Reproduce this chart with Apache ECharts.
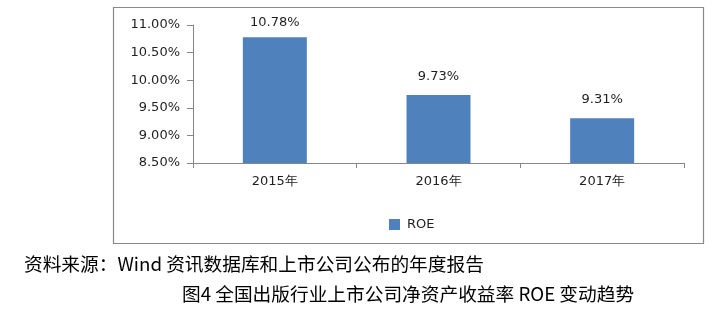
<!DOCTYPE html>
<html>
<head>
<meta charset="utf-8">
<script src="https://cdn.jsdelivr.net/npm/echarts@6/dist/echarts.min.js"></script>
<style>
html,body{margin:0;padding:0;background:#fff;}
#chart{width:722px;height:316px;}
</style>
</head>
<body>
<div id="chart"></div>
<script>
var categories = ['2015年', '2016年', '2017年'];
var roeValues = [10.78, 9.73, 9.31];
var seriesName = 'ROE';
var yMin = 8.5, yMax = 11.0, yStep = 0.5;
var sourceText = '资料来源：Wind 资讯数据库和上市公司公布的年度报告';
var captionText = '图4 全国出版行业上市公司净资产收益率 ROE 变动趋势';

var chart = echarts.init(document.getElementById('chart'), null, {renderer: 'canvas'});
var labelFont = 'DejaVu Sans';
var cjkFont = '"Noto Sans CJK SC", sans-serif';

var barData = roeValues.map(function (v, i) {
  return {value: v, label: {distance: i === 0 ? 8 : 12}};
});

chart.setOption({
  animation: false,
  backgroundColor: '#fff',
  grid: {left: 193, right: 38, top: 25, bottom: 153, containLabel: false},
  xAxis: {
    type: 'category',
    data: categories,
    axisLine: {lineStyle: {color: '#868686', width: 1}},
    axisTick: {show: true, length: 5, lineStyle: {color: '#868686'}},
    axisLabel: {color: '#1f1f1f', fontFamily: labelFont, fontSize: 13, margin: 12}
  },
  yAxis: {
    type: 'value',
    min: yMin, max: yMax, interval: yStep,
    axisLine: {show: true, lineStyle: {color: '#868686', width: 1}},
    axisTick: {show: true, length: 6, lineStyle: {color: '#868686'}},
    splitLine: {show: false},
    axisLabel: {
      color: '#1f1f1f', fontFamily: labelFont, fontSize: 13, margin: 13,
      formatter: function (v) { return v.toFixed(2) + '%'; }
    }
  },
  legend: {
    data: [seriesName],
    left: 384, top: 213,
    itemWidth: 11, itemHeight: 11, itemGap: 10,
    icon: 'rect',
    textStyle: {color: '#1f1f1f', fontFamily: labelFont, fontSize: 13, padding: [0, 0, 0, 2]}
  },
  series: [{
    name: seriesName,
    type: 'bar',
    data: barData,
    barWidth: 64,
    itemStyle: {color: '#4F81BD'},
    label: {
      show: true, position: 'top',
      color: '#1f1f1f', fontFamily: labelFont, fontSize: 13,
      formatter: function (p) { return p.value.toFixed(2) + '%'; }
    }
  }],
  graphic: [
    {
      type: 'rect', silent: true, z: -1,
      shape: {x: 113.5, y: 7.5, width: 590, height: 236},
      style: {fill: 'none', stroke: '#888888', lineWidth: 1.2}
    },
    {
      type: 'text', left: 24, top: 255,
      style: {text: sourceText, font: '18.7px ' + cjkFont, fill: '#000'}
    },
    {
      type: 'text', left: 182, top: 285,
      style: {text: captionText, font: '18.7px ' + cjkFont, fill: '#000'}
    }
  ]
});
</script>
</body>
</html>
